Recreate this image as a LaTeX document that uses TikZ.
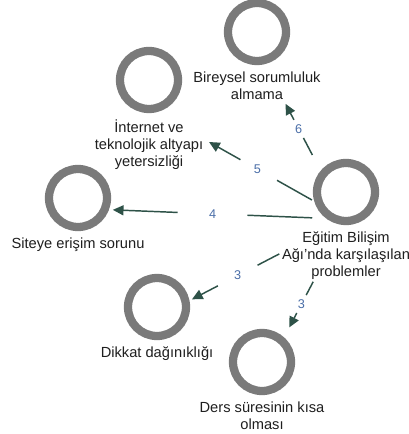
\documentclass[tikz,border=0pt]{standalone}
\usepackage{fontspec}
\setmainfont{Liberation Sans}
\usepackage{xcolor}
\usetikzlibrary{arrows.meta,positioning,fit}
\definecolor{ringgray}{HTML}{7A7A7A}
\definecolor{linkgreen}{HTML}{2E5248}
\definecolor{numblue}{HTML}{4A6EA8}

\begin{document}
\begin{tikzpicture}[
x=0.75pt, y=-0.75pt,
node distance=5pt,
topic/.style={
    draw=ringgray,
    circle,
    line width=6.2pt,
    minimum size=43.5pt,
    inner sep=0pt
},
caption/.style={
    align=center,
    inner sep=0pt,
    text=black!88,
    font=\fontsize{11}{12.5}\selectfont
},
group/.style={
    inner sep=0pt
},
num/.style={
    text=numblue,
    font=\fontsize{9.5}{11}\selectfont
},
link/.style={
    draw=linkgreen,
    line width=1.1pt
},
arrow/.style={
    link,
    -{Triangle[length=8pt,width=7.5pt]}
}
]

\useasboundingbox[fill=white] (0,0) rectangle (408,434);

% topics
\node[topic] (edu) at (346,192) {};
\node[caption, below=of edu] (edu-l)
{Eğitim Bilişim\\Ağı'nda karşılaşılan\\problemler};

\node[topic] (bir) at (257,32) {};
\node[caption, below=of bir] (bir-l)
{Bireysel sorumluluk\\almama};

\node[topic] (int) at (149,80) {};
\node[caption, below=of int] (int-l)
{İnternet ve\\teknolojik altyapı\\yetersizliği};

\node[topic] (sit) at (78,198) {};
\node[caption, below=of sit] (sit-l)
{Siteye erişim sorunu};

\node[topic] (dik) at (157,307) {};
\node[caption, below=of dik] (dik-l)
{Dikkat dağınıklığı};

\node[topic] (der) at (262,362) {};
\node[caption, below=of der] (der-l)
{Ders süresinin kısa\\olması};

% groups
\node[group, fit=(edu)(edu-l)] (edu-g) {};
\node[group, fit=(bir)(bir-l)] (bir-g) {};
\node[group, fit=(int)(int-l)] (int-g) {};
\node[group, fit=(sit)(sit-l)] (sit-g) {};
\node[group, fit=(dik)(dik-l)] (dik-g) {};
\node[group, fit=(der)(der-l)] (der-g) {};

% links
\path (edu-g.center) -- coordinate[pos=.378] (e6a) coordinate[pos=.478] (e6b)
    node[num, pos=.531] {6} coordinate[pos=.585] (e6c) coordinate[pos=.679] (e6d) (bir-g.center);
\draw[link] (e6a) -- (e6b);
\draw[arrow] (e6c) -- (e6d);

\path (edu-g.center) -- coordinate[pos=.173] (e5a) coordinate[pos=.35] (e5b)
    node[num, pos=.45] {5} coordinate[pos=.536] (e5c) coordinate[pos=.695] (e5d) (int-g.center);
\draw[link] (e5a) -- (e5b);
\draw[arrow] (e5c) -- (e5d);

\path (edu-g.center) -- coordinate[pos=.126] (e4a) coordinate[pos=.368] (e4b)
    node[num, pos=.498] {4} coordinate[pos=.628] (e4c) coordinate[pos=.87] (e4d) (sit-g.center);
\draw[link] (e4a) -- (e4b);
\draw[arrow] (e4c) -- (e4d);

\path (edu-g.center) -- coordinate[pos=.353] (e3a) coordinate[pos=.468] (e3b)
    node[num, pos=.573] {3} coordinate[pos=.678] (e3c) coordinate[pos=.815] (e3d) (dik-g.center);
\draw[link] (e3a) -- (e3b);
\draw[arrow] (e3c) -- (e3d);

\path (edu-g.center) -- coordinate[pos=.391] (e2a) coordinate[pos=.474] (e2b)
    node[num, pos=.53] {3} coordinate[pos=.586] (e2c) coordinate[pos=.676] (e2d) (der-g.center);
\draw[link] (e2a) -- (e2b);
\draw[arrow] (e2c) -- (e2d);

\end{tikzpicture}
\end{document}
